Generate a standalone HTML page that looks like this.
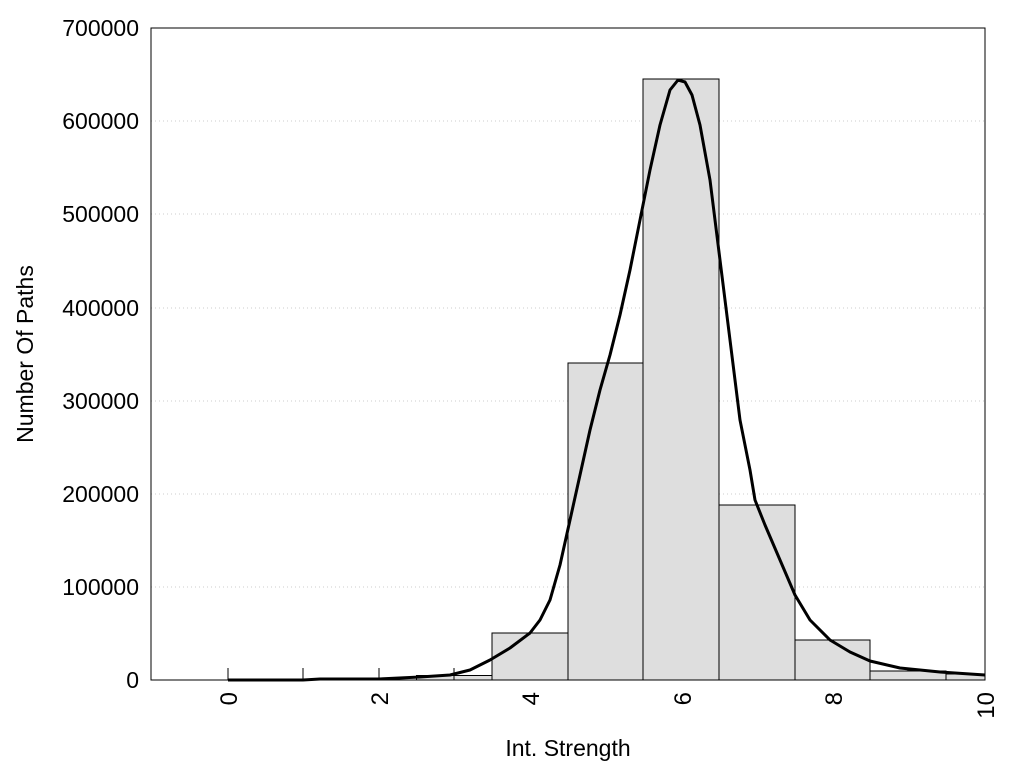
<!DOCTYPE html>
<html><head><style>
html,body{margin:0;padding:0;background:#fff;}
text{font-family:"Liberation Sans",sans-serif;fill:#000;}
</style></head><body>
<svg width="1024" height="768" xmlns="http://www.w3.org/2000/svg">
<rect width="1024" height="768" fill="#fff"/>
<g stroke="#ccc" stroke-dasharray="1,3" stroke-width="1">
<line x1="151" x2="985" y1="587" y2="587"/>
<line x1="151" x2="985" y1="494" y2="494"/>
<line x1="151" x2="985" y1="401" y2="401"/>
<line x1="151" x2="985" y1="308" y2="308"/>
<line x1="151" x2="985" y1="214" y2="214"/>
<line x1="151" x2="985" y1="121" y2="121"/>
</g>
<g fill="#dedede" stroke="#000" stroke-width="1">
<rect x="416.5" y="675.5" width="75.5" height="4.5"/>
<rect x="492" y="633" width="76" height="47"/>
<rect x="568" y="363" width="75" height="317"/>
<rect x="643" y="79" width="76" height="601"/>
<rect x="719" y="505" width="76" height="175"/>
<rect x="795" y="640" width="75" height="40"/>
<rect x="870" y="671" width="76" height="9"/>
<rect x="946" y="674" width="39" height="6"/>
</g>
<g stroke="#000" stroke-width="1">
<line x1="228" y1="668" x2="228" y2="680"/>
<line x1="303" y1="668" x2="303" y2="680"/>
<line x1="379" y1="668" x2="379" y2="680"/>
<line x1="454" y1="668" x2="454" y2="680"/>
<line x1="908" y1="668" x2="908" y2="671"/>
</g>
<polyline fill="none" stroke="#000" stroke-width="3" stroke-linejoin="round" points="228,680 303,680 320,679 379,679 420,677 450,675 470,670 490,660 510,648 530,633 540,620 550,600 560,565 570,520 580,475 590,430 600,390 610,355 620,315 630,270 640,220 650,170 660,125 670,90 678,80 685,82 692,95 700,125 710,180 720,260 730,340 740,420 750,470 755,500 765,525 780,560 795,595 810,620 830,640 850,652 870,661 900,668 940,672 985,675"/>
<rect x="151" y="28" width="834" height="652" fill="none" stroke="#000" stroke-width="1"/>
<g font-size="23" text-anchor="end">
<text x="139" y="688">0</text>
<text x="139" y="595">100000</text>
<text x="139" y="502">200000</text>
<text x="139" y="409">300000</text>
<text x="139" y="316">400000</text>
<text x="139" y="222">500000</text>
<text x="139" y="129">600000</text>
<text x="139" y="36">700000</text>
</g>
<g font-size="24" text-anchor="end">
<text transform="translate(237,692) rotate(-90)">0</text>
<text transform="translate(388,692) rotate(-90)">2</text>
<text transform="translate(539,692) rotate(-90)">4</text>
<text transform="translate(691,692) rotate(-90)">6</text>
<text transform="translate(842,692) rotate(-90)">8</text>
<text transform="translate(994,692) rotate(-90)">10</text>
</g>
<text x="568" y="756" font-size="23" text-anchor="middle">Int. Strength</text>
<text transform="translate(33,354) rotate(-90)" font-size="23" text-anchor="middle">Number Of Paths</text>
</svg>
</body></html>
